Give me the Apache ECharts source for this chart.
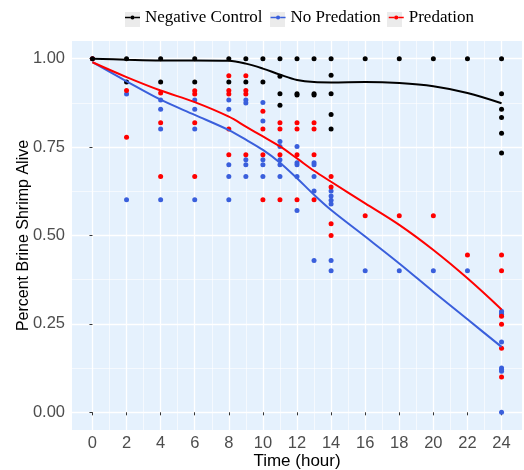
<!DOCTYPE html>
<html>
<head>
<meta charset="utf-8">
<script src="https://cdn.jsdelivr.net/npm/echarts@6/dist/echarts.min.js"></script>
<style>html,body{margin:0;padding:0;background:#fff}#c{width:524px;height:470px}</style>
</head>
<body>
<div id="c"></div>
<script>
// ---- data ----
var groupNames = ['Negative Control', 'No Predation', 'Predation'];
var xTicks = [0, 2, 4, 6, 8, 10, 12, 14, 16, 18, 20, 22, 24];
var xMinor = [1, 3, 5, 7, 9, 11, 13, 15, 17, 19, 21, 23];
var yTicks = [0, 0.25, 0.5, 0.75, 1];
var yMinor = [0.125, 0.375, 0.625, 0.875];

// raw observations: hour / proportion alive
var ctrlHours = [0, 2,2, 4,4, 6,6, 8,8, 9,9, 10,10, 11,11,11,11, 12,12,12, 13,13,13, 14,14,14,14,14, 16, 18, 20, 22, 24,24,24,24,24,24];
var ctrlAlive = [1.0, 1.0,0.934, 1.0,0.934, 1.0,0.934, 1.0,0.934, 1.0,0.934, 1.0,0.934, 1.0,0.95,0.901,0.868, 1.0,0.901,0.897, 1.0,0.901,0.897, 1.0,0.953,0.901,0.842,0.801, 1.0, 1.0, 1.0, 1.0, 1.0,0.901,0.857,0.834,0.789,0.733];

var noPredHours = [0, 2,2, 4,4,4,4, 6,6,6,6, 8,8,8,8,8, 9,9,9,9,9, 10,10,10,10,10, 11,11,11,11,11, 12,12,12,12,12, 13,13,13,13,13, 14,14,14,14,14,14, 16, 18, 20, 22, 24,24,24,24,24,24,24,24];
var noPredAlive = [1.0, 0.900,0.601, 0.883,0.857,0.801,0.601, 0.883,0.857,0.801,0.601, 0.883,0.857,0.700,0.667,0.601, 0.883,0.875,0.714,0.700,0.667, 0.876,0.824,0.714,0.700,0.667, 0.766,0.752,0.714,0.700,0.667, 0.752,0.706,0.700,0.667,0.571, 0.706,0.700,0.667,0.626,0.429, 0.626,0.612,0.600,0.589,0.429,0.400, 0.400, 0.400, 0.400, 0.400, 0.286,0.281,0.277,0.199,0.125,0.121,0.116,0.0];

var predHours = [0, 2,2, 4,4,4, 6,6,6,6, 8,8,8,8,8, 9,9,9,9, 10,10,10,10, 11,11,11,11, 12,12,12,12, 13,13,13,13, 14,14,14,14, 16, 18, 20, 22, 24,24,24,24,24,24];
var predAlive = [1.0, 0.910,0.778, 0.903,0.819,0.667, 0.909,0.900,0.819,0.667, 0.952,0.910,0.900,0.801,0.728, 0.952,0.910,0.900,0.728, 0.851,0.801,0.728,0.601, 0.819,0.801,0.728,0.601, 0.819,0.801,0.728,0.601, 0.819,0.801,0.728,0.601, 0.667,0.637,0.533,0.500, 0.556, 0.556, 0.556, 0.445, 0.445,0.400,0.272,0.249,0.181,0.100];

// smoothed (loess) curves
var curveHours = [0, 2, 4, 6, 8, 9, 10, 11, 12, 13, 14, 16, 18, 20, 22, 24];
var ctrlCurve = [1.0, 0.997, 0.995, 0.995, 0.994, 0.986, 0.972, 0.955, 0.940, 0.934, 0.933, 0.934, 0.931, 0.922, 0.903, 0.874];
var noPredCurve = [0.990, 0.936, 0.884, 0.841, 0.798, 0.771, 0.742, 0.706, 0.662, 0.615, 0.572, 0.497, 0.421, 0.341, 0.263, 0.185];
var predCurve = [0.990, 0.948, 0.910, 0.877, 0.836, 0.808, 0.780, 0.752, 0.718, 0.683, 0.652, 0.591, 0.530, 0.459, 0.379, 0.291];

// ---- build ----
var colors = { 'Negative Control': '#000000', 'No Predation': '#3A5FDC', 'Predation': '#FF0000' };
function pairs(xs, ys) { return xs.map(function (x, i) { return [x, ys[i]]; }); }

var chart = echarts.init(document.getElementById('c'), null, { renderer: 'canvas' });
var sans = 'Liberation Sans, Arial, sans-serif';
// legend key: short line with a dot in the middle
var legendIcon = 'path://M0,2.3h5.4v1.4h-5.4z M9.6,2.3h5.4v1.4h-5.4z M5.4,3a2.1,2.1 0 1,0 4.2,0a2.1,2.1 0 1,0 -4.2,0z';

function scatter(name, xs, ys, z) {
  return { name: name, type: 'scatter', xAxisIndex: 0, yAxisIndex: 0, data: pairs(xs, ys),
    symbolSize: 5, itemStyle: { color: colors[name], opacity: 1 }, z: z, silent: true, animation: false };
}
function curve(name, ys, z) {
  return { name: name, type: 'line', xAxisIndex: 0, yAxisIndex: 0, data: pairs(curveHours, ys),
    smooth: 0.35, showSymbol: false, symbol: 'none', lineStyle: { color: colors[name], width: 2 },
    itemStyle: { color: colors[name] }, z: z, silent: true, animation: false };
}

var keyBoxes = [125, 270, 387].map(function (x) {
  return { type: 'rect', left: x, top: 12, z: -10, silent: true,
    shape: { width: 15, height: 15 }, style: { fill: '#EBEBEB' } };
});

var option = {
  backgroundColor: '#ffffff',
  animation: false,
  graphic: keyBoxes,
  grid: { left: 72, top: 41, width: 450, height: 389, show: true, backgroundColor: '#E5F1FD', borderWidth: 0,
    outerBoundsMode: 'none', containLabel: false },
  legend: {
    data: groupNames.map(function (n) { return { name: n, icon: legendIcon, itemStyle: { color: colors[n] } }; }),
    top: 9, left: 125, padding: 0, itemWidth: 15, itemHeight: 6, itemGap: 8, z: 5,
    textStyle: { fontFamily: 'Liberation Serif, Times New Roman, serif', fontSize: 17, color: '#000' },
    selectedMode: false
  },
  xAxis: [
    { type: 'value', min: -1.2, max: 25.2,
      axisLine: { show: false },
      axisTick: { show: true, length: 3, customValues: xTicks, lineStyle: { color: '#333', width: 1 } },
      axisLabel: { customValues: xTicks, color: '#4D4D4D', fontSize: 16.5, fontFamily: sans, margin: 5 },
      splitLine: { show: true, lineStyle: { color: '#ffffff', width: 1.3 } },
      name: 'Time (hour)', nameLocation: 'middle', nameGap: 23, nameMoveOverlap: false,
      nameTextStyle: { color: '#000', fontSize: 17, fontFamily: sans }, z: 1 },
    { type: 'value', min: -1.2, max: 25.2, position: 'bottom',
      axisLine: { show: false }, axisTick: { show: false, customValues: xMinor },
      axisLabel: { show: false, customValues: xMinor },
      splitLine: { show: true, lineStyle: { color: '#ffffff', width: 0.6 } }, z: 0 }
  ],
  yAxis: [
    { type: 'value', min: -0.05, max: 1.05,
      axisLine: { show: false },
      axisTick: { show: true, length: 3, customValues: yTicks, lineStyle: { color: '#333', width: 1 } },
      axisLabel: { customValues: yTicks, color: '#4D4D4D', fontSize: 16.5, fontFamily: sans, margin: 7,
        formatter: function (v) { return v.toFixed(2); } },
      splitLine: { show: true, lineStyle: { color: '#ffffff', width: 1.3 } },
      name: 'Percent Brine Shrimp Alive', nameLocation: 'middle', nameGap: 40, nameMoveOverlap: false,
      nameTextStyle: { color: '#000', fontSize: 16, fontFamily: sans }, z: 1 },
    { type: 'value', min: -0.05, max: 1.05, position: 'left',
      axisLine: { show: false }, axisTick: { show: false, customValues: yMinor },
      axisLabel: { show: false, customValues: yMinor },
      splitLine: { show: true, lineStyle: { color: '#ffffff', width: 0.6 } }, z: 0 }
  ],
  series: [
    scatter('No Predation', noPredHours, noPredAlive, 3),
    scatter('Predation', predHours, predAlive, 4),
    scatter('Negative Control', ctrlHours, ctrlAlive, 5),
    curve('Negative Control', ctrlCurve, 6),
    curve('No Predation', noPredCurve, 6),
    curve('Predation', predCurve, 6),
    // empty series bound to the minor-grid axes so they render
    { type: 'line', xAxisIndex: 1, yAxisIndex: 1, data: [], silent: true }
  ]
};
chart.setOption(option);
</script>
</body>
</html>
